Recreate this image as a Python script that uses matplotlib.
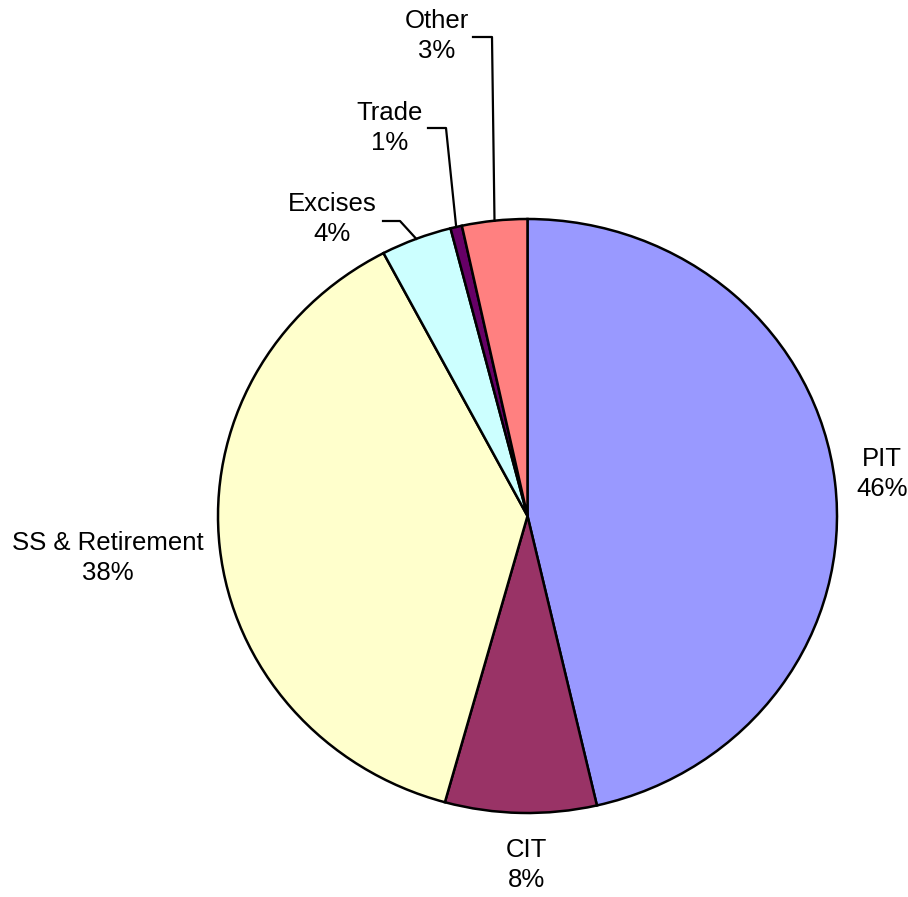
import numpy as np
import matplotlib.pyplot as plt

plt.rcParams['font.family'] = ['Liberation Sans', 'DejaVu Sans']

categories = ['PIT', 'CIT', 'SS & Retirement', 'Excises', 'Trade', 'Other']
shares = [46.4, 7.9, 38.0, 3.7, 0.6, 3.4]
colors = ['#9999FF', '#993366', '#FFFFCC', '#CCFFFF', '#660066', '#FF8080']

W, H = 908, 897
cx, cy, rx, ry = 527.5, 516, 309.5, 297

def px(x, y):
    # pixel position -> data units of the unit pie
    return (x - cx) / rx, (cy - y) / ry

fig = plt.figure(figsize=(W / 100, H / 100), dpi=100)
ax = fig.add_axes([0, 0, 1, 1])
ax.axis('off')
wedges, _ = ax.pie(shares, colors=colors, startangle=90, counterclock=False,
                   radius=1, wedgeprops=dict(edgecolor='black', linewidth=1.8))
ax.set_aspect('auto')
ax.set_xlim(px(0, 0)[0], px(W, 0)[0])
ax.set_ylim(px(0, H)[1], px(0, 0)[1])

total = sum(shares)
label_pos = {
    'PIT': (882, 474),
    'CIT': (526, 865),
    'SS & Retirement': (108, 558),
    'Excises': (332, 219),
    'Trade': (390, 128),
    'Other': (437, 36),
}
# leader lines: start near label, elbow, then wedge
leaders = {
    'Excises': [(383, 221), (400, 221)],
    'Trade': [(428, 128), (446, 128)],
    'Other': [(473, 37), (492, 37)],
}

for w, cat, v in zip(wedges, categories, shares):
    x, y = px(*label_pos[cat])
    ax.text(x, y, '%s\n%.0f%%' % (cat, v / total * 100), ha='center', va='center',
            fontsize=18.5, linespacing=1.35)
    if cat in leaders:
        mid = np.deg2rad((w.theta1 + w.theta2) / 2)
        pts = [px(*p) for p in leaders[cat]] + [(np.cos(mid), np.sin(mid))]
        ax.plot([p[0] for p in pts], [p[1] for p in pts], color='black', lw=1.6)

fig.savefig('out.png', dpi=100)
